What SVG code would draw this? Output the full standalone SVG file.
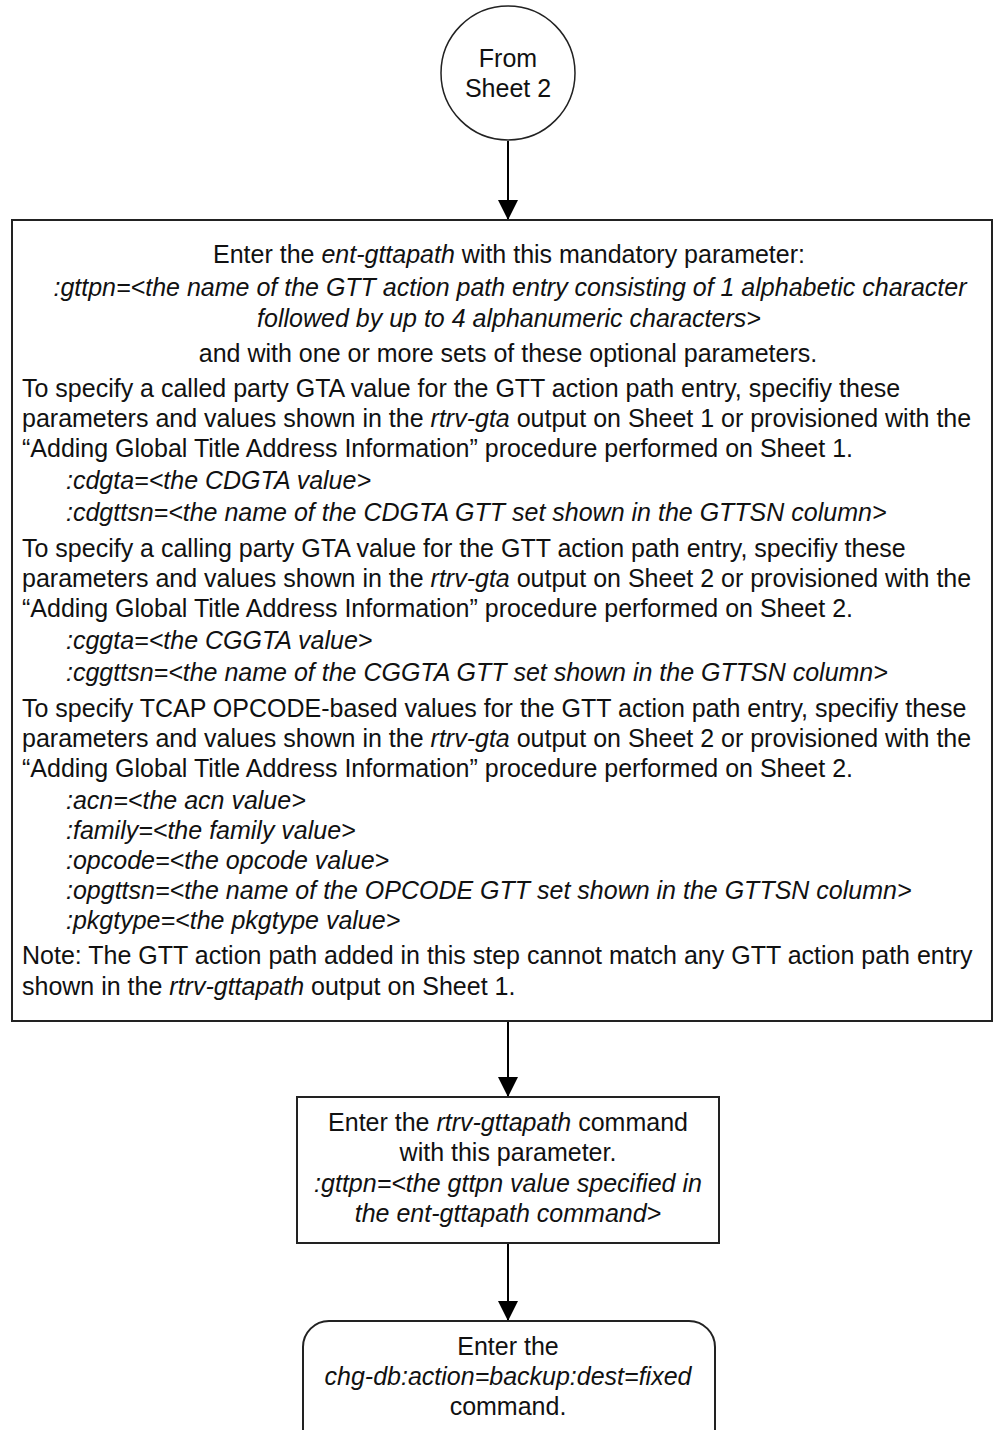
<svg xmlns="http://www.w3.org/2000/svg" width="993" height="1430" viewBox="0 0 993 1430">
<defs>
<marker id="arr" markerWidth="20" markerHeight="20" viewBox="0 0 20 20" refX="20" refY="10" orient="auto" markerUnits="userSpaceOnUse">
<path d="M0,0 L20,10 L0,20 Z" fill="#000"/>
</marker>
<style>
.t{font-family:"Liberation Sans",Arial,sans-serif;font-size:25px;fill:#111}
.c{text-anchor:middle}
.i{font-style:italic}
.n{fill:#fff;stroke:#222;stroke-width:2}
.e{stroke:#000;stroke-width:2;fill:none}
</style>
</defs>
<rect width="993" height="1430" fill="#fff"/>
<g id="connectors">
<line class="e" x1="508" y1="141" x2="508" y2="220" marker-end="url(#arr)"/>
<line class="e" x1="508" y1="1021" x2="508" y2="1097" marker-end="url(#arr)"/>
<line class="e" x1="508" y1="1243" x2="508" y2="1321" marker-end="url(#arr)"/>
</g>
<g id="from-sheet2">
<circle class="n" cx="508" cy="73" r="67" style="stroke-width:1.5"/>
<text class="t c" x="508" y="67">From</text>
<text class="t c" x="508" y="97">Sheet 2</text>
</g>
<g id="ent-gttapath">
<rect class="n" x="12" y="220" width="980" height="801"/>
<text class="t c" x="509" y="263">Enter the <tspan class="i">ent-gttapath</tspan> with this mandatory parameter:</text>
<text class="t c i" x="510" y="296">:gttpn=&lt;the name of the GTT action path entry consisting of 1 alphabetic character</text>
<text class="t c i" x="509" y="327">followed by up to 4 alphanumeric characters&gt;</text>
<text class="t c" x="508" y="362">and with one or more sets of these optional parameters.</text>
<text class="t" x="22" y="397">To specify a called party GTA value for the GTT action path entry, specifiy these</text>
<text class="t" x="22" y="427">parameters and values shown in the <tspan class="i">rtrv-gta</tspan> output on Sheet 1 or provisioned with the</text>
<text class="t" x="22" y="457">“Adding Global Title Address Information” procedure performed on Sheet 1.</text>
<text class="t i" x="66" y="489">:cdgta=&lt;the CDGTA value&gt;</text>
<text class="t i" x="66" y="521">:cdgttsn=&lt;the name of the CDGTA GTT set shown in the GTTSN column&gt;</text>
<text class="t" x="22" y="557">To specify a calling party GTA value for the GTT action path entry, specifiy these</text>
<text class="t" x="22" y="587">parameters and values shown in the <tspan class="i">rtrv-gta</tspan> output on Sheet 2 or provisioned with the</text>
<text class="t" x="22" y="617">“Adding Global Title Address Information” procedure performed on Sheet 2.</text>
<text class="t i" x="66" y="649">:cggta=&lt;the CGGTA value&gt;</text>
<text class="t i" x="66" y="681">:cggttsn=&lt;the name of the CGGTA GTT set shown in the GTTSN column&gt;</text>
<text class="t" x="22" y="717">To specify TCAP OPCODE-based values for the GTT action path entry, specifiy these</text>
<text class="t" x="22" y="747">parameters and values shown in the <tspan class="i">rtrv-gta</tspan> output on Sheet 2 or provisioned with the</text>
<text class="t" x="22" y="777">“Adding Global Title Address Information” procedure performed on Sheet 2.</text>
<text class="t i" x="66" y="809">:acn=&lt;the acn value&gt;</text>
<text class="t i" x="66" y="839">:family=&lt;the family value&gt;</text>
<text class="t i" x="66" y="869">:opcode=&lt;the opcode value&gt;</text>
<text class="t i" x="66" y="899">:opgttsn=&lt;the name of the OPCODE GTT set shown in the GTTSN column&gt;</text>
<text class="t i" x="66" y="929">:pkgtype=&lt;the pkgtype value&gt;</text>
<text class="t" x="22" y="964">Note: The GTT action path added in this step cannot match any GTT action path entry</text>
<text class="t" x="22" y="995">shown in the <tspan class="i">rtrv-gttapath</tspan> output on Sheet 1.</text>
</g>
<g id="rtrv-gttapath">
<rect class="n" x="297" y="1097" width="422" height="146"/>
<text class="t c" x="508" y="1131">Enter the <tspan class="i">rtrv-gttapath</tspan> command</text>
<text class="t c" x="508" y="1161">with this parameter.</text>
<text class="t c i" x="508" y="1192">:gttpn=&lt;the gttpn value specified in</text>
<text class="t c i" x="508" y="1222">the ent-gttapath command&gt;</text>
</g>
<g id="chg-db">
<rect class="n" x="303" y="1321" width="412" height="140" rx="26" ry="26"/>
<text class="t c" x="508" y="1355">Enter the</text>
<text class="t c i" x="508" y="1385">chg-db:action=backup:dest=fixed</text>
<text class="t c" x="508" y="1415">command.</text>
</g>
</svg>
